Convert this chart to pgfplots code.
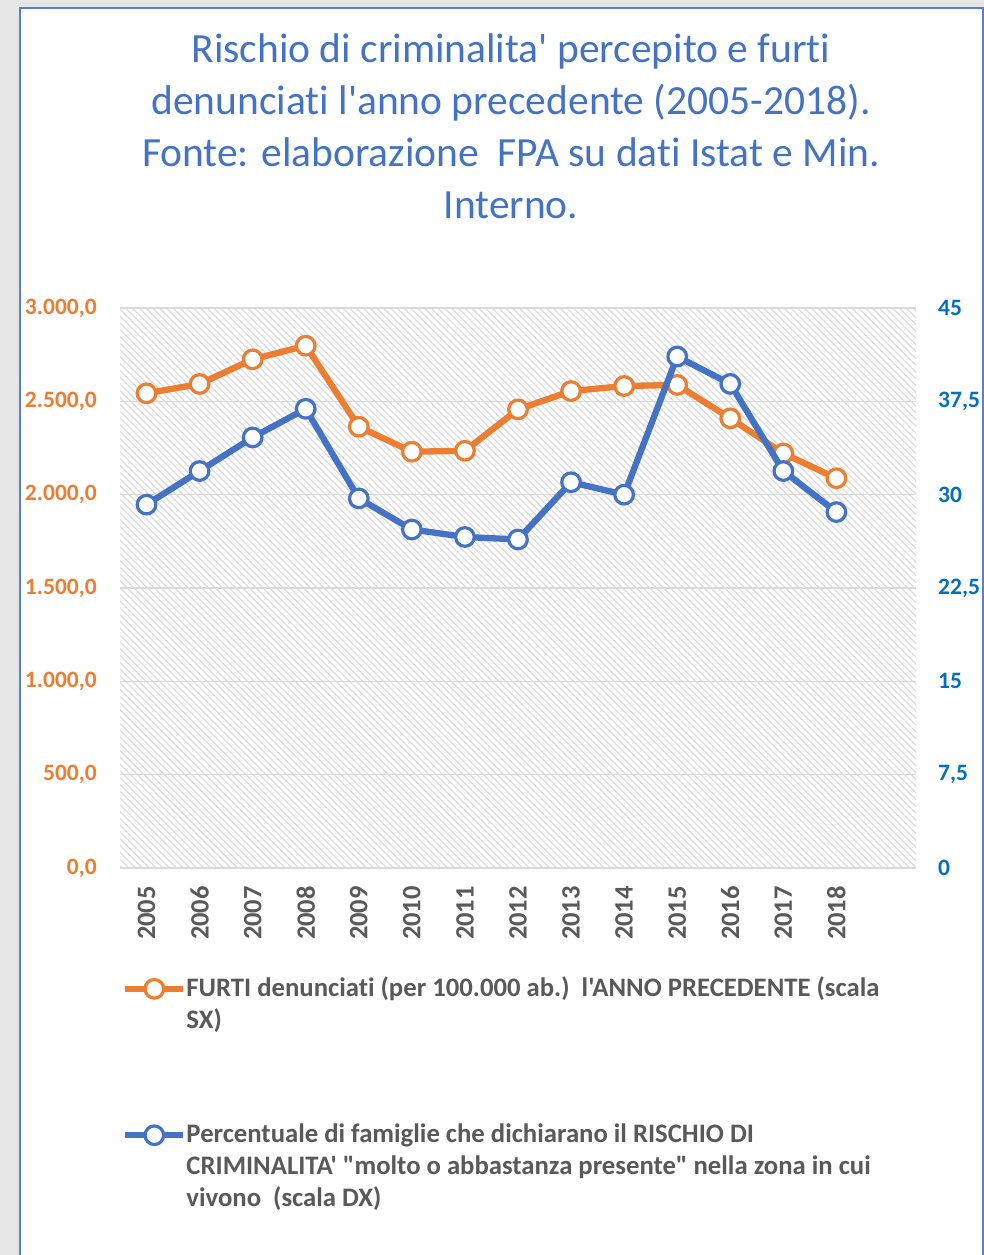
\documentclass[border=0pt]{standalone}
\usepackage{fontspec}
\setmainfont{Carlito}[Ligatures={TeXOff,NoCommon}]
\usepackage{pgfplots}
\pgfplotsset{compat=1.18}
\usetikzlibrary{patterns.meta}
\definecolor{cOrange}{HTML}{ED7D31}
\definecolor{cBlue}{HTML}{4472C4}
\definecolor{rBlue}{HTML}{0070C0}
\definecolor{labgray}{HTML}{595959}
\definecolor{gridgray}{HTML}{D9D9D9}
\definecolor{hatch}{HTML}{DADADA}
\definecolor{bggray}{HTML}{E7E6E6}
\definecolor{frameblue}{HTML}{5B7FCF}
\begin{document}
\begin{tikzpicture}[x=1pt,y=1pt]
\useasboundingbox (0,0) rectangle (984,1255);
\fill[bggray] (0,0) rectangle (984,1255);
\fill[white] (20,0) rectangle (983,1247);
\draw[frameblue, line width=1.5pt] (20,0) -- (20,1247) -- (983,1247) -- (983,0);
\coordinate (axSW) at (120,387);
\node[anchor=north, align=center, font=\fontsize{41.5}{52}\selectfont, text=cBlue, inner sep=0pt] at (511,1222)
 {Rischio di criminalita' percepito e furti\\denunciati l'anno precedente (2005-2018).\\Fonte: elaborazione \ FPA su dati Istat e Min.\\Interno.};
\begin{axis}[
 at={(axSW)}, anchor=south west, scale only axis, width=796pt, height=560pt,
 xmin=-0.5, xmax=14.5, ymin=0, ymax=3000,
 xtick={0,...,13}, xticklabels={2005,2006,2007,2008,2009,2010,2011,2012,2013,2014,2015,2016,2017,2018},
 ytick={0,500,1000,1500,2000,2500,3000},
 yticklabels={{0,0},{500,0},{1.000,0},{1.500,0},{2.000,0},{2.500,0},{3.000,0}},
 axis line style={draw=none}, major tick length=0pt,
 ymajorgrids, grid style={gridgray, line width=1.3pt},
 axis background/.style={pattern={Lines[angle=-45,distance=4.8pt,line width=1.1pt]}, pattern color=hatch},
 xticklabel style={rotate=90, anchor=east, inner sep=0pt, font=\fontsize{26.5}{30}\selectfont\bfseries, text=labgray},
 xticklabel shift=18pt,
 yticklabel style={anchor=east, inner sep=0pt, font=\fontsize{23.5}{28}\selectfont\bfseries, text=cOrange},
 yticklabel shift=23pt,
 legend style={at={(0.0025,-0.1946)}, anchor=north west, draw=none, fill=none, inner sep=0pt,
   nodes={inner sep=0pt, align=left, text=labgray, font=\fontsize{26.7}{32}\selectfont\bfseries}},
 legend cell align=left,
 legend image code/.code={\draw[#1, yshift=15pt, mark repeat=2, mark phase=2] plot coordinates {(0pt,0pt) (29pt,0pt) (58pt,0pt)};},
]
\addplot[cOrange, line width=6.3pt, mark=*, mark size=9.3pt, mark options={fill=white, line width=3.2pt, draw=cOrange}]
 coordinates {(0,2543) (1,2593) (2,2725) (3,2798) (4,2364) (5,2230) (6,2235) (7,2457) (8,2555) (9,2582) (10,2588) (11,2409) (12,2221) (13,2088)};
\addlegendentry{FURTI denunciati (per 100.000 ab.)\ \ l'ANNO PRECEDENTE (scala\\SX)}
\end{axis}
\begin{axis}[
 at={(axSW)}, anchor=south west, scale only axis, width=796pt, height=560pt,
 xmin=-0.5, xmax=14.5, ymin=0, ymax=45,
 xtick=\empty,
 ytick={0,7.5,15,22.5,30,37.5,45},
 yticklabels={0,{7,5},15,{22,5},30,{37,5},45},
 yticklabel pos=right,
 axis line style={draw=none}, major tick length=0pt,
 yticklabel style={anchor=west, inner sep=0pt, font=\fontsize{23.5}{28}\selectfont\bfseries, text=rBlue},
 yticklabel shift=22pt,
 legend style={at={(0.0025,-0.457)}, anchor=north west, draw=none, fill=none, inner sep=0pt,
   nodes={inner sep=0pt, align=left, text=labgray, font=\fontsize{26.7}{32}\selectfont\bfseries}},
 legend cell align=left,
 legend image code/.code={\draw[#1, yshift=31pt, mark repeat=2, mark phase=2] plot coordinates {(0pt,0pt) (29pt,0pt) (58pt,0pt)};},
]
\addplot[cBlue, line width=6.3pt, mark=*, mark size=9.3pt, mark options={fill=white, line width=3.2pt, draw=cBlue}]
 coordinates {(0,29.2) (1,31.9) (2,34.6) (3,36.9) (4,29.7) (5,27.2) (6,26.6) (7,26.4) (8,31.0) (9,30.0) (10,41.1) (11,38.9) (12,31.9) (13,28.6)};
\addlegendentry{Percentuale di famiglie che dichiarano il RISCHIO DI\\CRIMINALITA' "molto o abbastanza presente" nella zona in cui\\vivono\ \ (scala DX)}
\end{axis}
\end{tikzpicture}
\end{document}
